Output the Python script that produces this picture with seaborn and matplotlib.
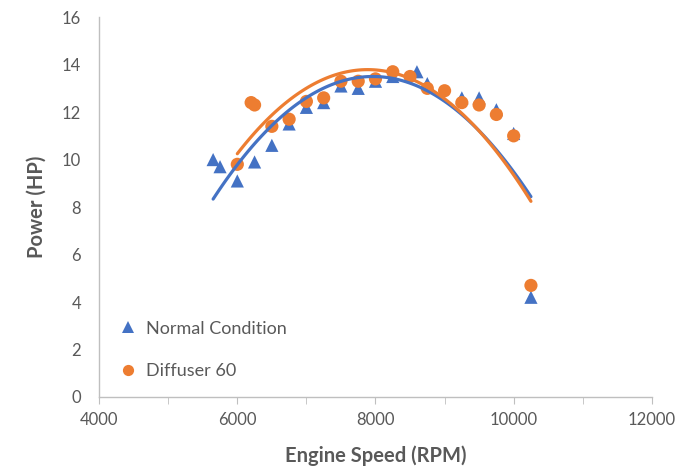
import numpy as np
import pandas as pd
import seaborn as sns
import matplotlib.pyplot as plt

normal_rpm = [5650, 5750, 6000, 6250, 6500, 6750, 7000, 7250, 7500, 7750,
              8000, 8250, 8600, 8750, 9250, 9500, 9750, 10000, 10250]
normal_hp = [10.0, 9.7, 9.1, 9.9, 10.6, 11.5, 12.2, 12.4, 13.1, 13.0,
             13.3, 13.5, 13.7, 13.2, 12.6, 12.6, 12.1, 11.1, 4.2]

diffuser_rpm = [6000, 6200, 6250, 6500, 6750, 7000, 7250, 7500, 7750, 8000,
                8250, 8500, 8750, 9000, 9250, 9500, 9750, 10000, 10250]
diffuser_hp = [9.8, 12.4, 12.3, 11.4, 11.7, 12.45, 12.6, 13.3, 13.3, 13.4,
               13.7, 13.5, 13.0, 12.9, 12.4, 12.3, 11.9, 11.0, 4.7]

series = ["Normal Condition", "Diffuser 60"]
blue = "#4472C4"
orange = "#ED7D31"
grey = "#595959"

df = pd.concat([
	pd.DataFrame({"rpm": normal_rpm, "hp": normal_hp, "cond": series[0]}),
	pd.DataFrame({"rpm": diffuser_rpm, "hp": diffuser_hp, "cond": series[1]}),
])

sns.set_style("white")
plt.rcParams['font.family'] = ['Lato', 'DejaVu Sans']

fig = plt.figure(figsize=(6.79, 4.76), dpi=100)
ax = fig.add_axes([0.146, 0.166, 0.814, 0.798])

sns.scatterplot(data=df, x="rpm", y="hp", hue="cond", style="cond",
				markers={series[0]: "^", series[1]: "o"},
				palette={series[0]: blue, series[1]: orange},
				s=90, linewidth=0, ax=ax, zorder=3)

# excel style 2nd order trendlines
sns.regplot(data=df[df.cond == series[0]], x="rpm", y="hp", order=2, ci=None,
			scatter=False, truncate=True, ax=ax,
			line_kws={"color": blue, "lw": 2.3, "zorder": 4})
sns.regplot(data=df[df.cond == series[1]], x="rpm", y="hp", order=2, ci=None,
			scatter=False, truncate=True, ax=ax,
			line_kws={"color": orange, "lw": 2.3, "zorder": 5})

ax.set_xlim(4000, 12000)
ax.set_ylim(0, 16)
ax.set_xticks(np.arange(4000, 12001, 2000))
ax.set_xticks(np.arange(4000, 12001, 1000), minor=True)
ax.set_yticks(np.arange(0, 17, 2))

for s in ["top", "right"]:
	ax.spines[s].set_visible(False)
for s in ["left", "bottom"]:
	ax.spines[s].set_color("#BFBFBF")
	ax.spines[s].set_linewidth(1.0)

ax.tick_params(axis="x", which="both", direction="out", length=5, color="#BFBFBF",
			   bottom=True, labelsize=12, labelcolor=grey, pad=6)
ax.tick_params(axis="y", length=0, labelsize=12, labelcolor=grey, pad=13)

ax.set_xlabel("Engine Speed (RPM)", fontsize=14.5, fontweight="bold", color=grey, labelpad=12)
ax.set_ylabel("Power (HP)", fontsize=14.5, fontweight="bold", color=grey, labelpad=11)

ax.legend(loc="lower left", bbox_to_anchor=(-0.01, 0.005), frameon=False,
		  fontsize=13, labelcolor=grey, labelspacing=1.45, handletextpad=0.0,
		  markerscale=0.85, title=None)

fig.savefig("out.png", dpi=100)
